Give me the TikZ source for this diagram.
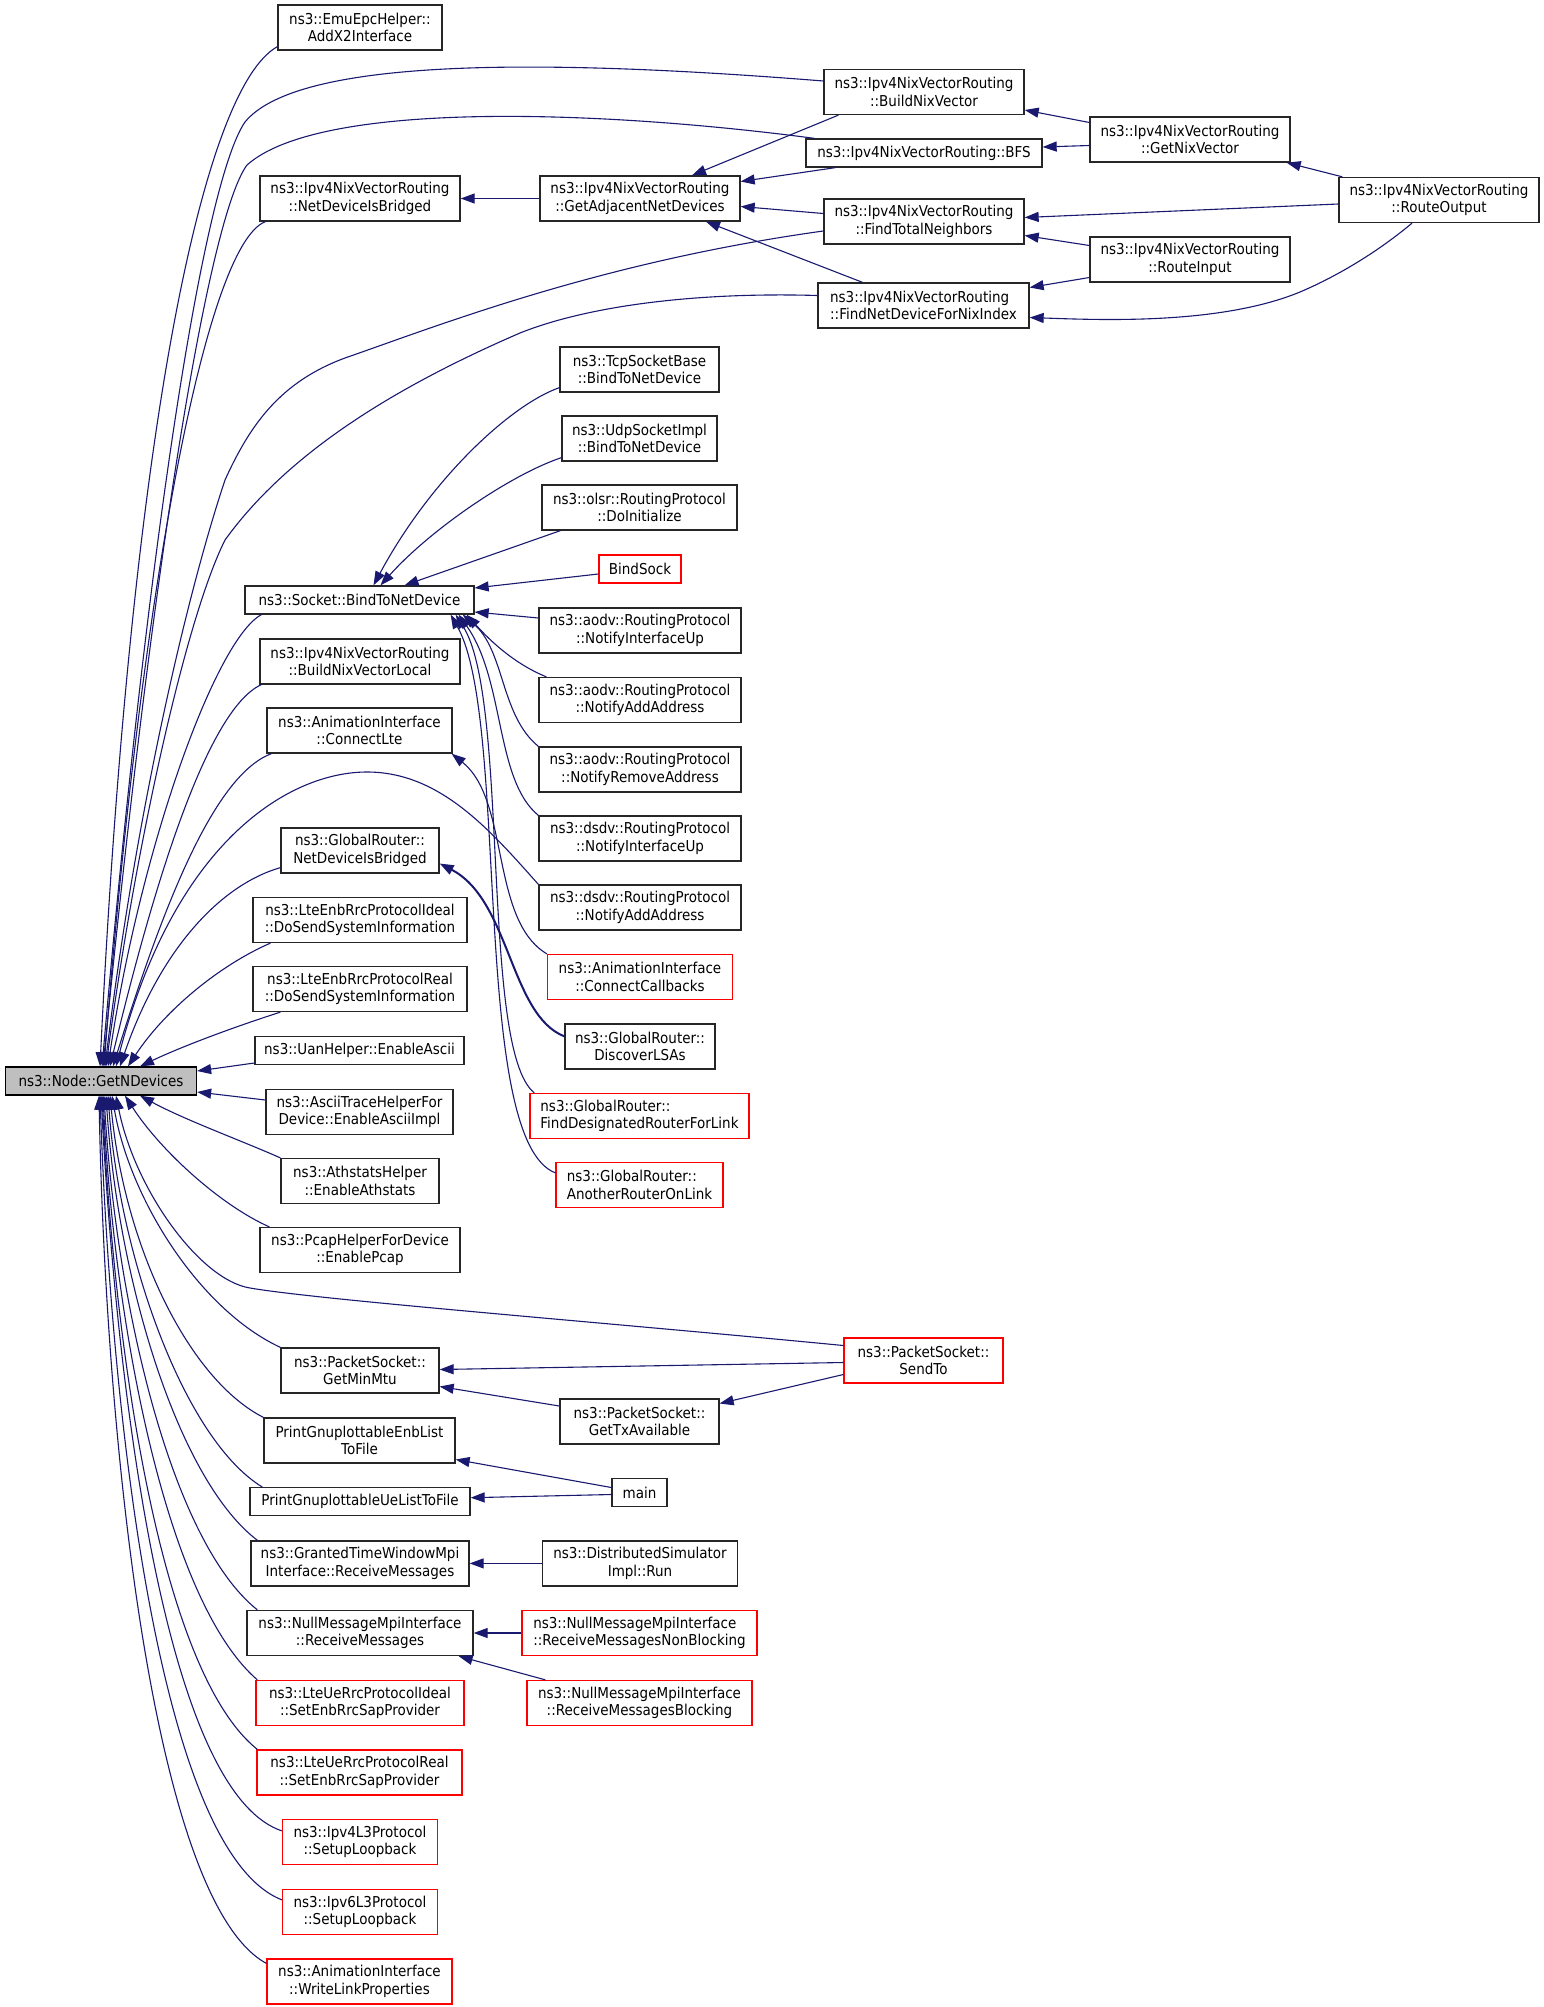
\documentclass[tikz,border=0pt]{standalone}
\usepackage{fontspec}
\setmainfont{DejaVu Sans}[FakeStretch=0.9]
\usetikzlibrary{arrows.meta}
\definecolor{edgeblue}{RGB}{25,25,112}
\definecolor{nodegray}{RGB}{191,191,191}
\newcommand\dxfont{\fontsize{15}{17.5}\selectfont}
\begin{document}
\begin{tikzpicture}[x=1pt,y=-1pt,
 box/.style={draw=black!85, line width=1.3pt, fill=white, inner sep=0pt, align=center, font=\dxfont, text=black},
 redbox/.style={box, draw=red},
 two/.style={minimum height=45pt},
 one/.style={minimum height=28pt},
 edge/.style={draw=edgeblue, line width=1.1pt, -{Triangle[length=14pt,width=10pt]}}]
\fill[white] (0,0) rectangle (1544,2007);
\useasboundingbox (0,0) rectangle (1544,2007);

% ---------------- nodes ----------------
\node[box,two,minimum width=164pt] (emu) at (360,27.5) {ns3::EmuEpcHelper::\\AddX2Interface};
\node[box,two,minimum width=200pt] (nixbr) at (360,198.5) {ns3::Ipv4NixVectorRouting\\::NetDeviceIsBridged};
\node[box,two,minimum width=200pt] (getadj) at (640,198.5) {ns3::Ipv4NixVectorRouting\\::GetAdjacentNetDevices};
\node[box,two,minimum width=200pt] (bnv) at (924,92) {ns3::Ipv4NixVectorRouting\\::BuildNixVector};
\node[box,one,minimum width=236pt] (bfs) at (924,153) {ns3::Ipv4NixVectorRouting::BFS};
\node[box,two,minimum width=200pt] (getnix) at (1190,139.5) {ns3::Ipv4NixVectorRouting\\::GetNixVector};
\node[box,two,minimum width=200pt] (routeout) at (1439,200) {ns3::Ipv4NixVectorRouting\\::RouteOutput};
\node[box,two,minimum width=200pt] (ftn) at (924,221.5) {ns3::Ipv4NixVectorRouting\\::FindTotalNeighbors};
\node[box,two,minimum width=200pt] (routein) at (1190,259.5) {ns3::Ipv4NixVectorRouting\\::RouteInput};
\node[box,two,minimum width=211pt,align=left] (fnd) at (923.5,305.5) {ns3::Ipv4NixVectorRouting\\::FindNetDeviceForNixIndex};
\node[box,two,minimum width=159pt] (tcp) at (639.5,369.5) {ns3::TcpSocketBase\\::BindToNetDevice};
\node[box,two,minimum width=155pt] (udp) at (639.5,438.5) {ns3::UdpSocketImpl\\::BindToNetDevice};
\node[box,two,minimum width=195pt] (olsr) at (639.5,507.5) {ns3::olsr::RoutingProtocol\\::DoInitialize};
\node[redbox,one,minimum width=82pt] (bindsock) at (640,569) {BindSock};
\node[box,one,minimum width=229pt] (socket) at (359.5,600) {ns3::Socket::BindToNetDevice};
\node[box,two,minimum width=202pt] (aodvup) at (640,630.5) {ns3::aodv::RoutingProtocol\\::NotifyInterfaceUp};
\node[box,two,minimum width=200pt] (bnvl) at (360,661.5) {ns3::Ipv4NixVectorRouting\\::BuildNixVectorLocal};
\node[box,two,minimum width=202pt] (aodvadd) at (640,700) {ns3::aodv::RoutingProtocol\\::NotifyAddAddress};
\node[box,two,minimum width=185pt] (connlte) at (359.5,730.5) {ns3::AnimationInterface\\::ConnectLte};
\node[box,two,minimum width=202pt] (aodvrem) at (640,769.5) {ns3::aodv::RoutingProtocol\\::NotifyRemoveAddress};
\node[box,two,minimum width=202pt] (dsdvup) at (640,838.5) {ns3::dsdv::RoutingProtocol\\::NotifyInterfaceUp};
\node[box,two,minimum width=158pt] (grbr) at (360,850.5) {ns3::GlobalRouter::\\NetDeviceIsBridged};
\node[box,two,minimum width=202pt] (dsdvadd) at (640,907.5) {ns3::dsdv::RoutingProtocol\\::NotifyAddAddress};
\node[box,two,minimum width=214pt] (enbideal) at (360,920) {ns3::LteEnbRrcProtocolIdeal\\::DoSendSystemInformation};
\node[redbox,two,minimum width=185pt] (conncb) at (640,977) {ns3::AnimationInterface\\::ConnectCallbacks};
\node[box,two,minimum width=214pt] (enbreal) at (360,989) {ns3::LteEnbRrcProtocolReal\\::DoSendSystemInformation};
\node[box,two,minimum width=150pt] (discover) at (640,1046.5) {ns3::GlobalRouter::\\DiscoverLSAs};
\node[box,one,minimum width=209pt] (uan) at (359.5,1050.5) {ns3::UanHelper::EnableAscii};
\node[box,one,minimum width=191pt,fill=nodegray,draw=black] (getn) at (101,1081) {ns3::Node::GetNDevices};
\node[box,two,minimum width=187pt] (ascii) at (359.5,1112) {ns3::AsciiTraceHelperFor\\Device::EnableAsciiImpl};
\node[redbox,two,minimum width=219pt,align=left] (fdr) at (639.5,1116) {ns3::GlobalRouter::\\FindDesignatedRouterForLink};
\node[box,two,minimum width=158pt] (athstats) at (360,1181) {ns3::AthstatsHelper\\::EnableAthstats};
\node[redbox,two,minimum width=167pt,align=left] (another) at (639.5,1185) {ns3::GlobalRouter::\\AnotherRouterOnLink};
\node[box,two,minimum width=200pt] (pcap) at (360,1250) {ns3::PcapHelperForDevice\\::EnablePcap};
\node[redbox,two,minimum width=159pt] (sendto) at (923.5,1360.5) {ns3::PacketSocket::\\SendTo};
\node[box,two,minimum width=158pt] (getminmtu) at (360,1370.5) {ns3::PacketSocket::\\GetMinMtu};
\node[box,two,minimum width=159pt] (gettx) at (639.5,1421.5) {ns3::PacketSocket::\\GetTxAvailable};
\node[box,two,minimum width=191pt] (penb) at (359.5,1440.5) {PrintGnuplottableEnbList\\ToFile};
\node[box,one,minimum width=55pt] (main) at (639.5,1492.5) {main};
\node[box,one,minimum width=220pt] (pue) at (360,1501.7) {PrintGnuplottableUeListToFile};
\node[box,two,minimum width=218pt] (granted) at (360,1563.4) {ns3::GrantedTimeWindowMpi\\Interface::ReceiveMessages};
\node[box,two,minimum width=195pt] (distsim) at (640,1563.4) {ns3::DistributedSimulator\\Impl::Run};
\node[box,two,minimum width=226pt] (nullrecv) at (360,1633) {ns3::NullMessageMpiInterface\\::ReceiveMessages};
\node[redbox,two,minimum width=235pt,align=left] (nonblock) at (639.5,1633) {ns3::NullMessageMpiInterface\\::ReceiveMessagesNonBlocking};
\node[redbox,two,minimum width=208pt] (ueideal) at (360,1703) {ns3::LteUeRrcProtocolIdeal\\::SetEnbRrcSapProvider};
\node[redbox,two,minimum width=225pt] (blocking) at (639.5,1703) {ns3::NullMessageMpiInterface\\::ReceiveMessagesBlocking};
\node[redbox,two,minimum width=205pt] (uereal) at (359.5,1772.5) {ns3::LteUeRrcProtocolReal\\::SetEnbRrcSapProvider};
\node[redbox,two,minimum width=155pt] (ipv4l3) at (360,1842) {ns3::Ipv4L3Protocol\\::SetupLoopback};
\node[redbox,two,minimum width=155pt] (ipv6l3) at (360,1912) {ns3::Ipv6L3Protocol\\::SetupLoopback};
\node[redbox,two,minimum width=185pt] (writelink) at (359.5,1981.5) {ns3::AnimationInterface\\::WriteLinkProperties};

% ---------------- edges into GetNDevices (from above) ----------------
\draw[edge] ([yshift=4pt]emu.south west) .. controls (200,90) and (130,450) .. ([xshift=-1pt]getn.north);
\draw[edge] ([yshift=11pt]bnv.west) .. controls (560,60) and (300,55) .. (245,122) .. controls (205,180) and (150,520) .. ([xshift=1pt]getn.north);
\draw[edge] ([xshift=9pt]bfs.north west) .. controls (600,110) and (320,100) .. (247,165) .. controls (210,215) and (155,540) .. ([xshift=2pt]getn.north);
\draw[edge] ([xshift=6pt]nixbr.south west) .. controls (205,245) and (140,600) .. ([xshift=3pt]getn.north);
\draw[edge] ([yshift=-9.5pt]ftn.west) .. controls (600,262) and (440,325) .. (345,358) .. controls (280,382) and (250,425) .. (225,480) .. controls (185,600) and (135,820) .. ([xshift=4pt]getn.north);
\draw[edge] ([yshift=10pt]fnd.west) .. controls (700,292) and (590,305) .. (520,333) .. controls (400,385) and (290,450) .. (225,540) .. controls (185,620) and (135,850) .. ([xshift=5pt]getn.north);
\draw[edge] ([xshift=17pt]socket.south west) .. controls (215,640) and (140,850) .. ([xshift=7pt]getn.north);
\draw[edge] ([xshift=2pt]bnvl.south west) .. controls (205,710) and (150,900) .. ([xshift=9pt]getn.north);
\draw[edge] ([xshift=5pt]connlte.south west) .. controls (215,775) and (165,900) .. ([xshift=12pt]getn.north);
\draw[edge] (dsdvadd.north west) .. controls (490,830) and (440,772) .. (367,772) .. controls (290,772) and (175,840) .. ([xshift=15pt]getn.north);
\draw[edge] ([yshift=6pt]grbr.south west) .. controls (220,885) and (160,950) .. ([xshift=19pt]getn.north);
\draw[edge] ([xshift=18pt]enbideal.south west) .. controls (220,965) and (165,1010) .. ([xshift=27pt]getn.north);
\draw[edge] ([xshift=28pt]enbreal.south west) .. controls (240,1025) and (185,1045) .. ([xshift=39pt]getn.north);
\draw[edge] ([yshift=-12.5pt]uan.west) -- ([yshift=10pt]getn.east);
\draw[edge] ([yshift=12pt]ascii.west) -- ([yshift=-11pt]getn.east);

% ---------------- edges into GetNDevices (from below) ----------------
\draw[edge] (athstats.north west) .. controls (240,1140) and (185,1120) .. ([xshift=39pt]getn.south);
\draw[edge] ([xshift=10pt]pcap.north west) .. controls (220,1205) and (160,1150) .. ([xshift=24pt]getn.south);
\draw[edge] ([yshift=15pt]sendto.west) .. controls (600,1322) and (320,1300) .. (250,1288) .. controls (200,1280) and (135,1190) .. ([xshift=15pt]getn.south);
\draw[edge] (getminmtu.north west) .. controls (200,1310) and (130,1200) .. ([xshift=11pt]getn.south);
\draw[edge] (penb.north west) .. controls (190,1380) and (125,1250) .. ([xshift=9pt]getn.south);
\draw[edge] ([xshift=13pt]pue.north west) .. controls (185,1440) and (120,1260) .. ([xshift=7pt]getn.south);
\draw[edge] ([xshift=7pt]granted.north west) .. controls (178,1480) and (118,1280) .. ([xshift=5pt]getn.south);
\draw[edge] ([xshift=11pt]nullrecv.north west) .. controls (170,1540) and (116,1300) .. ([xshift=3pt]getn.south);
\draw[edge] ([xshift=2pt]ueideal.north west) .. controls (165,1600) and (114,1320) .. ([xshift=2pt]getn.south);
\draw[edge] ([xshift=1pt]uereal.north west) .. controls (158,1670) and (114,1340) .. ([xshift=1pt]getn.south);
\draw[edge] ([yshift=-12pt]ipv4l3.north west) .. controls (160,1790) and (115,1360) .. (getn.south);
\draw[edge] ([yshift=-11pt]ipv6l3.north west) .. controls (155,1850) and (110,1390) .. ([xshift=-1pt]getn.south);
\draw[edge] ([yshift=-5pt]writelink.north west) .. controls (150,1900) and (105,1420) .. ([xshift=-2pt]getn.south);

% ---------------- Nix vector routing cluster ----------------
\draw[edge] (getadj.west) -- (nixbr.east);
\draw[edge] ([xshift=15pt]bnv.south west) -- ([xshift=52pt]getadj.north);
\draw[edge] ([xshift=30pt]bfs.south west) -- ([yshift=17pt]getadj.east);
\draw[edge] ([yshift=8pt]ftn.west) -- ([yshift=-8pt]getadj.east);
\draw[edge] ([xshift=-61pt]fnd.north) -- ([xshift=66pt]getadj.south);
\draw[edge] ([yshift=17pt]getnix.west) -- ([yshift=-18pt]bnv.east);
\draw[edge] ([yshift=-6pt]getnix.west) -- ([yshift=6pt]bfs.east);
\draw[edge] ([xshift=4pt]routeout.north west) -- ([xshift=-4pt]getnix.south east);
\draw[edge] ([yshift=-4pt]routeout.west) -- ([yshift=4pt]ftn.east);
\draw[edge] ([yshift=14pt]routein.west) -- ([yshift=-14pt]ftn.east);
\draw[edge] ([yshift=-18pt]routein.west) -- ([yshift=18pt]fnd.east);
\draw[edge] ([xshift=-27pt]routeout.south) .. controls (1380,250) and (1340,275) .. (1300,292) .. controls (1220,325) and (1100,320) .. ([yshift=-12pt]fnd.east);

% ---------------- Socket::BindToNetDevice callers ----------------
\draw[edge] ([yshift=5pt]tcp.south west) .. controls (510,405) and (430,480) .. ([xshift=14pt]socket.north);
\draw[edge] ([yshift=4pt]udp.south west) .. controls (510,475) and (430,530) .. ([xshift=21pt]socket.north);
\draw[edge] ([xshift=19pt]olsr.south west) -- ([xshift=45pt]socket.north);
\draw[edge] ([yshift=-5pt]bindsock.west) -- ([yshift=12pt]socket.east);
\draw[edge] ([yshift=12.5pt]aodvup.west) -- ([yshift=-12pt]socket.east);
\draw[edge] ([xshift=8pt]aodvadd.north west) .. controls (510,662) and (485,635) .. ([xshift=-8pt]socket.south east);
\draw[edge] (aodvrem.north west) .. controls (500,715) and (505,650) .. ([xshift=-12pt]socket.south east);
\draw[edge] (dsdvup.north west) .. controls (495,780) and (505,680) .. ([xshift=-16pt]socket.south east);
\draw[edge] ([xshift=5pt]fdr.north west) .. controls (480,1050) and (510,700) .. ([xshift=-19pt]socket.south east);
\draw[edge] ([yshift=-11pt]another.north west) .. controls (470,1140) and (510,720) .. ([xshift=-24pt]socket.south east);

% ---------------- other callers ----------------
\draw[edge] (conncb.north west) .. controls (490,920) and (510,800) .. ([xshift=-1pt]connlte.south east);
\draw[edge, line width=2pt] ([yshift=-13pt]discover.north west) .. controls (510,1015) and (510,900) .. ([yshift=-13pt]grbr.east);
\draw[edge] ([yshift=-2pt]sendto.west) -- ([yshift=1pt]getminmtu.east);
\draw[edge] ([yshift=15.5pt]gettx.west) -- ([yshift=-16pt]getminmtu.east);
\draw[edge] ([yshift=-14pt]sendto.west) -- ([yshift=18pt]gettx.east);
\draw[edge] ([yshift=5pt]main.west) -- ([yshift=-19pt]penb.east);
\draw[edge] ([yshift=-2pt]main.west) -- ([yshift=4pt]pue.east);
\draw[edge] (distsim.west) -- (granted.east);
\draw[edge] (nonblock.west) -- (nullrecv.east);
\draw[edge] ([xshift=19pt]blocking.north west) -- ([xshift=-15pt]nullrecv.south east);
\end{tikzpicture}
\end{document}
